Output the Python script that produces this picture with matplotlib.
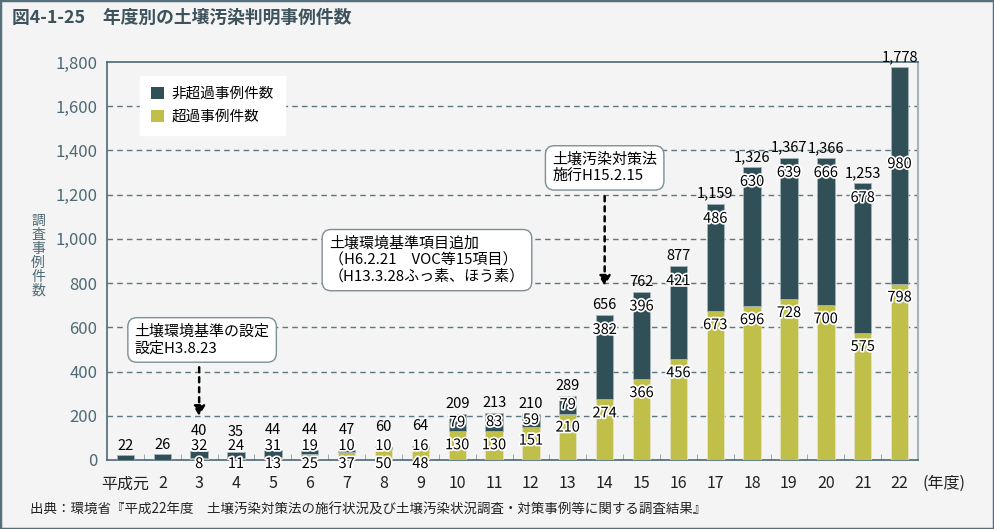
import matplotlib
matplotlib.use("Agg")
import matplotlib.pyplot as plt
import matplotlib.patheffects as pe
from matplotlib.patches import Patch, Rectangle
import numpy as np

plt.rcParams['font.family'] = ['Noto Sans CJK JP', 'DejaVu Sans']

# data
years = ["平成元", "2", "3", "4", "5", "6", "7", "8", "9", "10", "11",
         "12", "13", "14", "15", "16", "17", "18", "19", "20", "21", "22"]
exceed = [0, 0, 8, 11, 13, 25, 37, 50, 48, 130, 130,
          151, 210, 274, 366, 456, 673, 696, 728, 700, 575, 798]
non_exceed = [22, 26, 32, 24, 31, 19, 10, 10, 16, 79, 83,
              59, 79, 382, 396, 421, 486, 630, 639, 666, 678, 980]

dark = "#304f57"
yellow = "#bfbf4a"
bg = "#f4f4f4"
axcol = "#4d6974"

fig = plt.figure(figsize=(9.94, 5.29), dpi=100, facecolor=bg)
ax = fig.add_axes([107/994, 1 - 460/529, 811/994, 398/529], facecolor=bg)

x = np.arange(len(years))
w = 0.47
ax.bar(x, exceed, w, color=yellow, edgecolor="#e6e6d0", linewidth=0.5, zorder=3)
ax.bar(x, non_exceed, w, bottom=exceed, color=dark, edgecolor="#a9b8bc",
       linewidth=0.5, zorder=3)

ax.set_xlim(-0.5, len(years) - 0.5)
ax.set_ylim(0, 1800)
ax.set_yticks(range(0, 1801, 200))
ax.set_yticklabels([f"{v:,}" for v in range(0, 1801, 200)])
ax.set_xticks(x)
ax.set_xticklabels(years)
ax.set_xticks(np.arange(0.5, len(years) - 1, 1), minor=True)
ax.tick_params(axis="y", length=0, pad=7, labelsize=12, labelcolor=axcol)
ax.tick_params(axis="x", which="major", length=0, pad=11, labelsize=11.5, labelcolor="#222222")
ax.tick_params(axis="x", which="minor", direction="in", length=4, color="#8a9ca3")

for yv in range(200, 1800, 200):
    ax.axhline(yv, color="#5d7781", lw=1, ls=(0, (4, 3)), zorder=1)
for s in ["left", "bottom", "top"]:
    ax.spines[s].set_color(axcol)
    ax.spines[s].set_linewidth(1.2)
ax.spines["right"].set_color("#a6b4b9")
ax.spines["right"].set_linewidth(1.5)

PX = 0.72  # points per pixel
outline = [pe.withStroke(linewidth=2.5, foreground="white")]
lab = dict(ha="center", va="center", fontsize=10.5, color="black", zorder=5)

for i in range(len(years)):
    total = exceed[i] + non_exceed[i]
    if i < 2:
        ax.annotate(f"{total:,}", (i, total), xytext=(0, 9 * PX),
                    textcoords="offset points", **lab)
    elif i < 9:
        ax.annotate(f"{total:,}", (i, total), xytext=(0, 20 * PX),
                    textcoords="offset points", **lab)
        ax.annotate(str(non_exceed[i]), (i, 0), xytext=(0, 14 * PX),
                    textcoords="offset points", path_effects=outline, **lab)
        ax.annotate(str(exceed[i]), (i, 0), xytext=(0, -4 * PX),
                    textcoords="offset points", path_effects=outline, **lab)
    else:
        ax.annotate(f"{total:,}", (i, total), xytext=(0, 10 * PX),
                    textcoords="offset points", **lab)
        if non_exceed[i] < 150 or i == len(years) - 1:
            ax.annotate(str(non_exceed[i]), (i, exceed[i] + non_exceed[i] / 2 + 50 * (i == len(years) - 1)),
                        path_effects=outline, **lab)
        else:
            ax.annotate(str(non_exceed[i]), (i, total), xytext=(0, -15 * PX),
                        textcoords="offset points", path_effects=outline, **lab)
        ax.annotate(str(exceed[i]), (i, exceed[i]), xytext=(0, -14 * PX),
                    textcoords="offset points", path_effects=outline, **lab)

# legend
handles = [Patch(facecolor=dark, label="非超過事例件数"),
           Patch(facecolor=yellow, label="超過事例件数")]
leg = ax.legend(handles=handles, loc="upper left", bbox_to_anchor=(0.041, 0.965),
                fontsize=10.5, frameon=True, fancybox=False, edgecolor="white",
                facecolor="white", framealpha=1, handlelength=0.9, handleheight=0.9,
                handletextpad=0.5, labelspacing=0.6, borderpad=0.75, borderaxespad=0)
leg.set_zorder(6)

# annotation boxes
box = dict(boxstyle="round,pad=0.45,rounding_size=0.6", facecolor="white",
           edgecolor="#7d8f96", linewidth=1)
note = dict(ha="center", va="center", fontsize=10.8, linespacing=1.2,
            multialignment="left", bbox=box, zorder=7)
ax.text(2.08, 543, "土壌環境基準の設定\n設定H3.8.23", **note)
ax.text(8.18, 904, "土壌環境基準項目追加\n（H6.2.21　VOC等15項目）\n（H13.3.28ふっ素、ほう素）", **note)
ax.text(13.0, 1321, "土壌汚染対策法\n施行H15.2.15", **note)

arrow = dict(arrowstyle="-|>,head_length=0.6,head_width=0.35", color="black",
             lw=1.8, ls=(0, (2, 2)))
ax.annotate("", xy=(2, 186), xytext=(2, 432), arrowprops=arrow, zorder=6)
ax.annotate("", xy=(13, 775), xytext=(13, 1205), arrowprops=arrow, zorder=6)

# texts around
fig.text(12/994, 1 - 18/529, "図4-1-25　年度別の土壌汚染判明事例件数", fontsize=12.8,
         fontweight="bold", color="#3d525b", va="center", ha="left")
fig.text(38/994, 1 - 256/529, "調\n査\n事\n例\n件\n数", fontsize=10, color=axcol,
         ha="center", va="center", linespacing=1.0)
fig.text(922/994, 1 - 483/529, "(年度)", fontsize=11.5, color="#222222",
         ha="left", va="center")
fig.text(30/994, 1 - 510/529,
         "出典：環境省『平成22年度　土壌汚染対策法の施行状況及び土壌汚染状況調査・対策事例等に関する調査結果』",
         fontsize=9.7, color="#222222", ha="left", va="center")

fig.patches.append(Rectangle((0, 0), 1, 1, transform=fig.transFigure, fill=False,
                             edgecolor="#55707a", linewidth=2.5))

fig.savefig("out.png", dpi=100, facecolor=bg)
